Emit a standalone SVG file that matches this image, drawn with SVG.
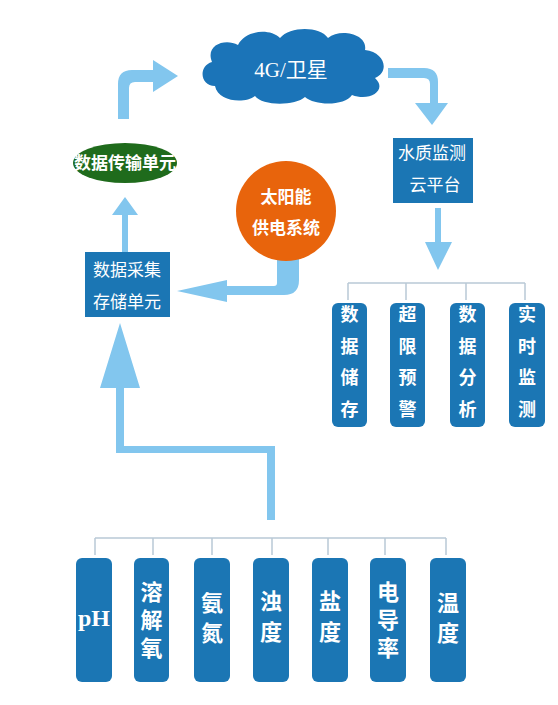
<svg xmlns="http://www.w3.org/2000/svg" width="558" height="705" viewBox="0 0 558 705">
<style>
.arrow{fill:#82c6ee;stroke:none}
.tree{fill:none;stroke:#b9c9d6;stroke-width:1.5}
.box{fill:#1b76b4}
.t{font-family:"Liberation Serif","Noto Sans CJK SC",serif;fill:#ffffff;text-anchor:middle;dominant-baseline:central}
.tb{font-weight:bold}
</style>
<rect width="558" height="705" fill="#ffffff"/>
<g id="connectors">
<path class="arrow" d="M118 119 L118 84 Q118 70 132 70 L153 70 L153 60 L178 76 L153 92 L153 82 L135 82 Q129 82 129 88 L129 119 Z"/>
<path class="arrow" d="M388 68 L424 68 Q438 68 438 82 L438 103 L448 103 L432 125 L415 103 L430 103 L430 84 Q430 78 424 78 L388 78 Z"/>
<path class="arrow" d="M435 208 L441 208 L441 242 L452 242 L438 270 L425 242 L435 242 Z"/>
<path class="arrow" d="M122 252 L122 215 L112 215 L125 197 L138 215 L128 215 L128 252 Z"/>
<path class="arrow" d="M277 258 L299 258 L299 280 Q299 295 284 295 L227 295 L227 302 L177 291 L227 280 L227 286 L274 286 Q277 286 277 283 Z"/>
<path class="arrow" d="M116 453 L116 388 L100 388 L120 323 L140 388 L124 388 L124 446 L275 446 L275 520 L267 520 L267 453 Z"/>
<path class="tree" d="M348 283 L525 283 M348 283 L348 300 M406 283 L406 300 M466 283 L466 300 M525 283 L525 300"/>
<path class="tree" d="M95 538 L446 538 M95 538 L95 555 M153 538 L153 555 M212 538 L212 555 M272 538 L272 555 M328 538 L328 555 M385 538 L385 555 M446 538 L446 555"/>
</g>
<g id="cloud">
<path fill="#1b74b8" d="M215 86 C200 86 198 66 212 62 C205 45 225 38 238 45 C245 30 270 28 280 38 C290 26 320 26 328 38 C340 28 368 34 365 50 C385 52 390 72 375 78 C388 90 370 102 352 95 C345 106 315 106 305 97 C295 106 262 106 255 96 C245 104 218 102 215 86 Z"/>
<text class="t" x="291" y="70" font-size="21">4G/卫星</text>
</g>
<g id="transmission">
<ellipse cx="125" cy="163" rx="52" ry="20" fill="#1f6b1c"/>
<text class="t tb" x="125" y="163" font-size="17">数据传输单元</text>
</g>
<g id="cloud-platform">
<rect class="box" x="393" y="138" width="80" height="65"/>
<text class="t" x="432" y="153" font-size="17">水质监测</text>
<text class="t" x="435" y="185" font-size="17">云平台</text>
</g>
<g id="solar">
<circle cx="286" cy="211" r="50" fill="#e8640c"/>
<text class="t tb" x="286" y="197" font-size="17">太阳能</text>
<text class="t tb" x="286" y="228" font-size="17">供电系统</text>
</g>
<g id="acquisition">
<rect class="box" x="85" y="252" width="85" height="65"/>
<text class="t" x="127" y="270" font-size="17">数据采集</text>
<text class="t" x="127" y="302" font-size="17">存储单元</text>
</g>
<g id="storage">
<rect class="box" x="332" y="303" width="35" height="124" rx="6"/>
<text class="t tb" x="349.5" font-size="18"><tspan x="349.5" y="315">数</tspan><tspan x="349.5" y="347">据</tspan><tspan x="349.5" y="378">储</tspan><tspan x="349.5" y="410">存</tspan></text>
</g>
<g id="alarm">
<rect class="box" x="390" y="303" width="35" height="124" rx="6"/>
<text class="t tb" x="407.5" font-size="18"><tspan x="407.5" y="315">超</tspan><tspan x="407.5" y="347">限</tspan><tspan x="407.5" y="378">预</tspan><tspan x="407.5" y="410">警</tspan></text>
</g>
<g id="analysis">
<rect class="box" x="450" y="303" width="35" height="124" rx="6"/>
<text class="t tb" x="467.5" font-size="18"><tspan x="467.5" y="315">数</tspan><tspan x="467.5" y="347">据</tspan><tspan x="467.5" y="378">分</tspan><tspan x="467.5" y="410">析</tspan></text>
</g>
<g id="realtime">
<rect class="box" x="509" y="303" width="36" height="124" rx="6"/>
<text class="t tb" x="527" font-size="18"><tspan x="527" y="315">实</tspan><tspan x="527" y="347">时</tspan><tspan x="527" y="378">监</tspan><tspan x="527" y="410">测</tspan></text>
</g>
<g id="ph">
<rect class="box" x="76" y="558" width="36" height="124" rx="6"/>
<text class="t tb" x="94" y="618" font-size="24">pH</text>
</g>
<g id="do">
<rect class="box" x="134" y="558" width="35" height="124" rx="6"/>
<text class="t tb" x="151.5" font-size="22"><tspan x="151.5" y="592">溶</tspan><tspan x="151.5" y="620">解</tspan><tspan x="151.5" y="648">氧</tspan></text>
</g>
<g id="ammonia">
<rect class="box" x="194" y="558" width="36" height="124" rx="6"/>
<text class="t tb" x="212" font-size="22"><tspan x="212" y="603">氨</tspan><tspan x="212" y="633">氮</tspan></text>
</g>
<g id="turbidity">
<rect class="box" x="253" y="558" width="36" height="124" rx="6"/>
<text class="t tb" x="271" font-size="22"><tspan x="271" y="601">浊</tspan><tspan x="271" y="632">度</tspan></text>
</g>
<g id="salinity">
<rect class="box" x="312" y="558" width="36" height="124" rx="6"/>
<text class="t tb" x="330" font-size="22"><tspan x="330" y="601">盐</tspan><tspan x="330" y="632">度</tspan></text>
</g>
<g id="conductivity">
<rect class="box" x="370" y="558" width="36" height="124" rx="6"/>
<text class="t tb" x="388" font-size="22"><tspan x="388" y="592">电</tspan><tspan x="388" y="620">导</tspan><tspan x="388" y="648">率</tspan></text>
</g>
<g id="temperature">
<rect class="box" x="430" y="558" width="36" height="124" rx="6"/>
<text class="t tb" x="448" font-size="22"><tspan x="448" y="603">温</tspan><tspan x="448" y="633">度</tspan></text>
</g>
</svg>
